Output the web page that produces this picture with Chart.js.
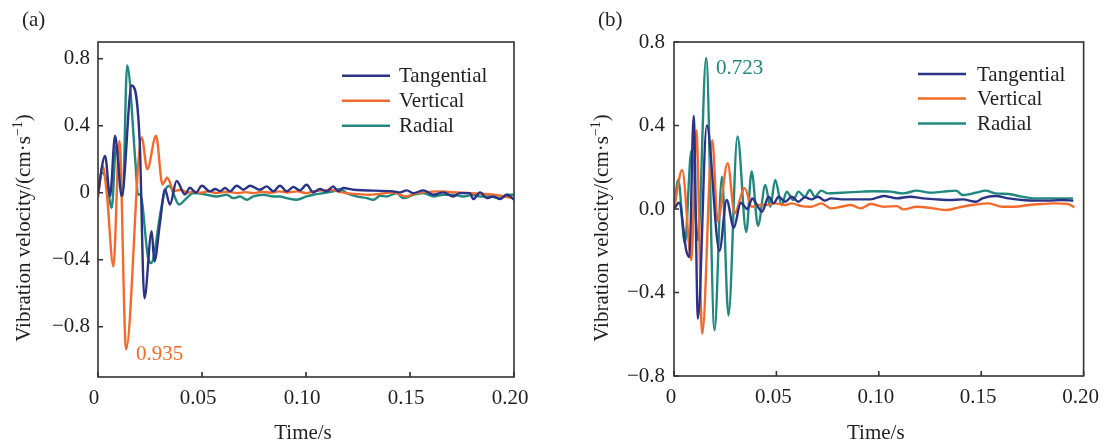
<!DOCTYPE html>
<html><head><meta charset="utf-8">
<script src="https://cdn.jsdelivr.net/npm/chart.js@4.4.0/dist/chart.umd.min.js"></script>
<style>
html,body{margin:0;padding:0;background:#fff;}
#wrap{position:relative;width:1111px;height:443px;overflow:hidden;background:#fff;}
.pane{position:absolute;top:0;height:443px;}
canvas{display:block;}
</style></head><body>
<div id="wrap">
<div class="pane" style="left:0;width:545px"><canvas id="ca" width="545" height="443"></canvas></div>
<div class="pane" style="left:555px;width:556px"><canvas id="cb" width="556" height="443"></canvas></div>
</div>
<script>
// ---- axis ticks ----
const xTicks = [0, 0.05, 0.10, 0.15, 0.20];
const xTickLabels = ['0', '0.05', '0.10', '0.15', '0.20'];
const yTicksA = [-0.8, -0.4, 0, 0.4, 0.8];
const yTickLabelsA = ['\u22120.8', '\u22120.4', '0', '0.4', '0.8'];
const yTicksB = [-0.8, -0.4, 0, 0.4, 0.8];
const yTickLabelsB = ['\u22120.8', '\u22120.4', '0.0', '0.4', '0.8'];
const seriesNames = ['Tangential', 'Vertical', 'Radial'];
const seriesColors = ['#2b3386', '#f26b2c', '#20887e'];

// ---- panel (a) ----
const tanA_t = [0,0.0034,0.0058,0.0082,0.0114,0.0162,0.0200,0.0223,0.0258,0.0271,0.0298,0.0322,0.0346,0.0378,0.0418,0.0442,0.0471,0.0499,0.0538,0.0563,0.0587,0.0611,0.0635,0.0667,0.0699,0.0731,0.0779,0.0811,0.0843,0.0875,0.0907,0.0939,0.0971,0.1003,0.1035,0.1067,0.1099,0.1131,0.1155,0.1179,0.1228,0.1420,0.1452,0.1484,0.1516,0.1564,0.1612,0.1660,0.1708,0.1740,0.1788,0.1804,0.1837,0.1869,0.1900,0.1933,0.1965,0.2000];
const tanA_v = [0,0.22,-0.02,0.34,-0.02,0.64,0.32,-0.63,-0.23,-0.41,-0.18,0.02,-0.07,0.07,-0.01,0.03,0.0,0.042,0.008,0.022,0.01,0.028,0.008,0.042,0.018,0.042,0.018,0.038,0.008,0.042,0.008,0.034,0.014,0.048,0.002,0.022,0.008,0.038,0.008,0.028,0.018,0.008,0.002,0.014,-0.002,0.014,-0.012,0.002,-0.022,-0.002,-0.002,-0.038,0.002,-0.032,-0.022,-0.038,-0.012,-0.042];
const verA_t = [0,0.0022,0.0042,0.0074,0.0103,0.0135,0.0210,0.0237,0.0279,0.0310,0.0333,0.0365,0.0400,0.0430,0.0460,0.0490,0.0530,0.0570,0.0620,0.0670,0.0710,0.0750,0.0790,0.0830,0.0870,0.0910,0.0960,0.1000,0.1040,0.1080,0.1120,0.1160,0.1200,0.1250,0.1300,0.1360,0.1420,0.1480,0.1520,0.1580,0.1640,0.1700,0.1760,0.1820,0.1880,0.1920,0.1960,0.2000];
const verA_v = [-0.03,0.16,0.0,-0.44,0.31,-0.935,0.33,0.14,0.34,0.05,0.09,0.01,0.018,0.0,0.008,0.0,0.008,-0.002,0.006,-0.002,0.004,-0.002,0.006,0.0,0.008,0.002,0.008,-0.002,0.01,0.014,0.018,0.006,-0.004,-0.008,-0.012,-0.006,0.002,-0.022,-0.006,0.004,0.008,0.004,0.0,-0.004,-0.008,-0.014,-0.024,-0.032];
const radA_t = [0,0.0018,0.0040,0.0066,0.0087,0.0119,0.0140,0.0180,0.0192,0.0203,0.0240,0.0255,0.0268,0.0300,0.0322,0.0342,0.0390,0.0426,0.0458,0.0522,0.0571,0.0619,0.0651,0.0683,0.0715,0.0747,0.0795,0.0843,0.0875,0.0907,0.0955,0.1003,0.1035,0.1083,0.1131,0.1163,0.1195,0.1243,0.1292,0.1324,0.1356,0.1388,0.1436,0.1468,0.1516,0.1564,0.1612,0.1660,0.1708,0.1756,0.1804,0.1837,0.1885,0.1933,0.1965,0.2000];
const radA_v = [0,0.12,0.08,-0.09,0.28,-0.02,0.76,0.18,-0.01,-0.01,-0.38,-0.42,-0.38,-0.12,0.01,0.04,-0.07,-0.032,-0.002,-0.012,-0.022,-0.012,-0.032,-0.022,-0.042,-0.022,-0.012,-0.022,-0.022,-0.032,-0.042,-0.022,-0.012,-0.002,0.008,0.022,-0.002,-0.022,-0.032,-0.042,-0.018,-0.022,-0.002,-0.032,-0.012,-0.002,-0.022,-0.012,-0.012,-0.022,-0.012,-0.022,-0.022,-0.032,-0.012,-0.012];

// ---- panel (b) ----
const tanB_t = [0,0.0025,0.0060,0.0075,0.0096,0.0117,0.0160,0.0222,0.0257,0.0292,0.0326,0.0358,0.0382,0.0410,0.0430,0.0462,0.0486,0.0511,0.0543,0.0575,0.0607,0.0639,0.0671,0.0703,0.0735,0.0767,0.0832,0.0896,0.0960,0.1024,0.1088,0.1153,0.1217,0.1281,0.1345,0.1410,0.1474,0.1506,0.1570,0.1634,0.1699,0.1763,0.1827,0.1891,0.1950];
const tanB_v = [0,0.03,-0.20,-0.23,0.446,-0.525,0.40,-0.20,0.043,-0.09,0.03,0.0,0.05,0.01,-0.013,0.059,0.027,0.059,0.035,0.059,0.035,0.056,0.046,0.059,0.04,0.051,0.046,0.046,0.046,0.062,0.051,0.059,0.051,0.046,0.043,0.046,0.035,0.051,0.062,0.051,0.043,0.04,0.04,0.043,0.04];
const verB_t = [0,0.0040,0.0085,0.0109,0.0138,0.0187,0.0213,0.0262,0.0296,0.0345,0.0380,0.0414,0.0446,0.0494,0.0543,0.0575,0.0623,0.0671,0.0719,0.0767,0.0816,0.0864,0.0912,0.0960,0.1024,0.1088,0.1120,0.1185,0.1265,0.1329,0.1393,0.1458,0.1538,0.1602,0.1666,0.1730,0.1795,0.1859,0.1923,0.1955];
const verB_v = [0,0.187,-0.245,0.378,-0.597,0.33,-0.06,0.22,-0.02,0.10,0.01,0.019,0.019,0.027,0.019,0.027,0.014,0.011,0.027,0.003,0.011,0.019,0.003,0.024,0.011,0.014,-0.002,0.011,0.003,-0.005,0.008,0.019,0.027,0.011,0.011,0.019,0.024,0.027,0.024,0.008];
const radB_t = [0,0.0021,0.0053,0.0085,0.0117,0.0157,0.0198,0.0234,0.0266,0.0310,0.0353,0.0379,0.0410,0.0446,0.0470,0.0494,0.0526,0.0550,0.0583,0.0607,0.0639,0.0663,0.0687,0.0719,0.0751,0.0816,0.0896,0.0976,0.1056,0.1120,0.1185,0.1249,0.1313,0.1377,0.1410,0.1474,0.1522,0.1570,0.1634,0.1699,0.1763,0.1827,0.1891,0.1948];
const radB_v = [0,0.14,-0.165,0.28,-0.15,0.723,-0.58,0.155,-0.51,0.347,-0.11,0.18,-0.08,0.115,0.011,0.139,0.019,0.083,0.043,0.083,0.059,0.091,0.059,0.088,0.075,0.078,0.082,0.085,0.083,0.075,0.088,0.078,0.083,0.088,0.067,0.078,0.088,0.075,0.072,0.059,0.051,0.051,0.051,0.051];

// ---- helpers ----
const FONT_FAMILY = '"Liberation Serif", "Times New Roman", serif';
const TXT = '#231f20';
function pairs(t, v) { return t.map((x, i) => ({ x: x, y: v[i] })); }
function ds(name, color, t, v) {
  return { label: name, data: pairs(t, v), borderColor: color, backgroundColor: color,
    borderWidth: 2.4, pointRadius: 0, fill: false, cubicInterpolationMode: 'monotone' };
}

function decor(cfg) {
  return {
    id: 'decor',
    afterDraw(chart) {
      const ctx = chart.ctx, a = chart.chartArea;
      const xs = chart.scales.x, ys = chart.scales.y;
      ctx.save();
      // frame
      ctx.strokeStyle = '#333';
      ctx.lineWidth = 1.6;
      ctx.strokeRect(a.left, a.top, a.right - a.left, a.bottom - a.top);
      // inward tick marks
      ctx.beginPath();
      xTicks.forEach(v => { const p = xs.getPixelForValue(v); ctx.moveTo(p, a.bottom); ctx.lineTo(p, a.bottom - 5); });
      cfg.yTicks.forEach(v => { const p = ys.getPixelForValue(v); ctx.moveTo(a.left, p); ctx.lineTo(a.left + 5, p); });
      ctx.stroke();
      // y title with superscript
      const f = '21px ' + FONT_FAMILY, fs = '14px ' + FONT_FAMILY;
      const p1 = 'Vibration velocity/(cm\u00b7s', sup = '\u22121', p3 = ')';
      ctx.fillStyle = TXT;
      ctx.textBaseline = 'alphabetic';
      ctx.textAlign = 'left';
      ctx.font = f; const w1 = ctx.measureText(p1).width, w3 = ctx.measureText(p3).width;
      ctx.font = fs; const w2 = ctx.measureText(sup).width;
      ctx.save();
      ctx.translate(cfg.yTitleX, cfg.yTitleY);
      ctx.rotate(-Math.PI / 2);
      let x = -(w1 + w2 + w3) / 2;
      ctx.font = f; ctx.fillText(p1, x, 0); x += w1;
      ctx.font = fs; ctx.fillText(sup, x, -8); x += w2;
      ctx.font = f; ctx.fillText(p3, x, 0);
      ctx.restore();
      // x title
      ctx.font = f; ctx.textAlign = 'center';
      ctx.fillText('Time/s', (a.left + a.right) / 2 - 3, 439);
      // panel label
      ctx.textAlign = 'left';
      ctx.fillText(cfg.panel, cfg.panelX, 26);
      // annotation
      ctx.fillStyle = cfg.annColor;
      ctx.fillText(cfg.ann, cfg.annX, cfg.annY);
      // legend
      chart.data.datasets.forEach((d, i) => {
        const y = cfg.legY[i];
        ctx.strokeStyle = d.borderColor; ctx.lineWidth = 2.4;
        ctx.beginPath(); ctx.moveTo(cfg.legX1, y); ctx.lineTo(cfg.legX2, y); ctx.stroke();
        ctx.fillStyle = TXT; ctx.font = f;
        ctx.fillText(d.label, cfg.legTx, y + 6.6);
      });
      ctx.restore();
    }
  };
}

function makeChart(id, datasets, o) {
  return new Chart(document.getElementById(id), {
    type: 'line',
    data: { datasets: datasets },
    options: {
      responsive: false, animation: false, events: [],
      layout: { padding: { top: 42, right: o.padRight, bottom: 0, left: 0 } },
      plugins: { legend: { display: false }, tooltip: { enabled: false } },
      scales: {
        x: {
          type: 'linear', min: 0, max: 0.2,
          afterBuildTicks(s) { s.ticks = xTicks.map(v => ({ value: v })); },
          afterFit(s) { s.height = o.xH; },
          grid: { display: false, drawTicks: false }, border: { display: false },
          ticks: { color: TXT, font: { family: FONT_FAMILY, size: 21 }, padding: 9, maxRotation: 0, autoSkip: false,
            labelOffset: o.xLabelOffset,
            callback: (v) => { const i = xTicks.findIndex(t => Math.abs(t - v) < 1e-9); return i >= 0 ? xTickLabels[i] : ''; } }
        },
        y: {
          type: 'linear', min: o.yMin, max: o.yMax,
          afterBuildTicks(s) { s.ticks = o.yTicks.map(v => ({ value: v })); },
          afterFit(s) { s.width = o.yW; },
          grid: { display: false, drawTicks: false }, border: { display: false },
          ticks: { color: TXT, font: { family: FONT_FAMILY, size: 21 }, padding: o.yPad, autoSkip: false,
            callback: (v) => { const i = o.yTicks.findIndex(t => Math.abs(t - v) < 1e-9); return i >= 0 ? o.yLabels[i] : ''; } }
        }
      }
    },
    plugins: [decor(o)]
  });
}

makeChart('ca', [
  ds(seriesNames[0], seriesColors[0], tanA_t, tanA_v),
  ds(seriesNames[1], seriesColors[1], verA_t, verA_v),
  ds(seriesNames[2], seriesColors[2], radA_t, radA_v)
], { padRight: 31, xH: 66, yW: 98, yPad: 8, yMin: -1.1, yMax: 0.9, yTicks: yTicksA, yLabels: yTickLabelsA,
     xLabelOffset: -4,
     yTitleX: 29.5, yTitleY: 228, panel: '(a)', panelX: 22,
     ann: '0.935', annX: 136, annY: 360, annColor: seriesColors[1],
     legX1: 342, legX2: 390, legTx: 399, legY: [75.7, 100.7, 125.7] });

makeChart('cb', [
  ds(seriesNames[0], seriesColors[0], tanB_t, tanB_v),
  ds(seriesNames[1], seriesColors[1], verB_t, verB_v),
  ds(seriesNames[2], seriesColors[2], radB_t, radB_v)
], { padRight: 22, xH: 67, yW: 119, yPad: 9, yMin: -0.8, yMax: 0.8, yTicks: yTicksB, yLabels: yTickLabelsB,
     xLabelOffset: -3,
     yTitleX: 52.5, yTitleY: 228, panel: '(b)', panelX: 43,
     ann: '0.723', annX: 161, annY: 74, annColor: seriesColors[2],
     legX1: 363, legX2: 411, legTx: 422, legY: [74, 98.5, 123.5] });
</script>
</body></html>
